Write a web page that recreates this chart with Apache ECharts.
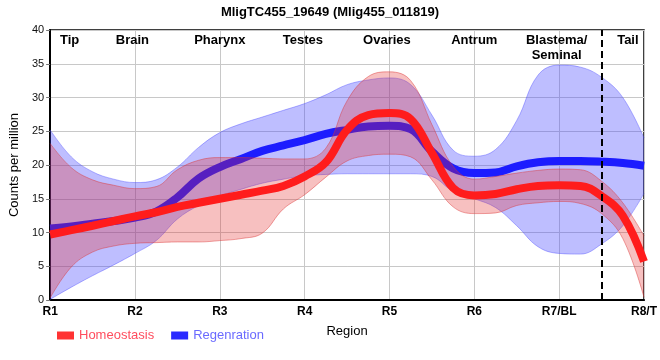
<!DOCTYPE html>
<html>
<head>
<meta charset="utf-8">
<script src="https://cdn.jsdelivr.net/npm/echarts@6/dist/echarts.min.js"></script>
<style>
html,body{margin:0;padding:0;background:#fff;}
#c{width:660px;height:360px;}
</style>
</head>
<body>
<div id="c"></div>
<script>
// ---- data ----
const categories = ['R1','R2','R3','R4','R5','R6','R7/BL','R8/T'];
const regionNames = ['Tip','Brain','Pharynx','Testes','Ovaries','Antrum','Blastema/\nSeminal','Tail'];
const yTicks = [0,5,10,15,20,25,30,35,40];
// sample positions along the region axis (1 = R1 ... 8 = R8/T)
const xPos = [1,1.25,1.5,1.75,2,2.25,2.5,2.75,3,3.25,3.5,3.75,4,4.25,4.5,4.75,5,5.25,5.5,5.75,6,6.25,6.5,6.75,7,7.25,7.5,7.75,8];

const homeoMean  = [9.7,10.35,11.0,11.7,12.4,13.0,13.8,14.4,15.0,15.6,16.2,16.9,18.3,20.4,25.2,27.4,27.7,26.8,21.8,16.6,15.5,15.7,16.4,16.9,17.0,16.9,15.4,12.5,5.7];
const homeoUpper = [23.2,19.6,17.8,17.0,16.5,16.8,19.3,20.7,21.1,21.1,21.0,20.9,20.9,22.5,29.5,33.1,33.8,32.5,26.0,19.8,17.9,18.3,18.8,19.2,19.4,19.3,17.6,14.4,9.5];
const homeoLower = [0.3,4.9,7.1,8.0,8.4,8.5,8.6,8.6,8.8,9.1,9.9,13.5,15.6,18.2,20.6,21.4,21.6,21.2,17.8,13.8,12.8,12.9,14.0,14.4,14.6,14.3,12.8,9.1,0.4];

const regenMean  = [10.6,10.9,11.3,11.7,12.2,13.1,15.2,18.0,19.7,20.9,22.1,22.9,23.7,24.6,25.2,25.7,25.8,25.3,22.0,19.5,18.8,18.9,19.8,20.4,20.6,20.6,20.5,20.3,19.9];
const regenUpper = [25.2,21.2,19.0,17.9,17.4,17.8,19.7,22.6,24.8,26.1,27.1,28.1,29.1,30.4,31.9,32.6,32.9,31.9,27.4,22.2,21.3,22.3,26.6,33.3,34.8,34.5,33.0,30.0,24.0];
const regenLower = [0.1,1.9,3.6,5.2,6.9,8.8,12.0,14.0,15.4,16.4,17.3,17.9,18.4,18.6,18.7,18.7,18.7,18.7,18.3,16.1,15.0,13.7,11.0,7.9,6.9,6.8,8.3,11.0,15.8];

const dividerAt = 7.5;
// label anchor positions along the region axis
const regionAt = [1.23,1.97,3.0,3.98,4.97,6.0,6.97,7.81];

// ---- build ----
const FONT = '"Liberation Sans", Arial, Helvetica, sans-serif';
const xCats = xPos.map(String);
const isMajor = (i) => Number.isInteger(xPos[i]);
const diffs = (up, lo) => up.map((u,i)=> +(u - lo[i]).toFixed(3));

const chart = echarts.init(document.getElementById('c'), null, {renderer:'canvas'});
const bandLine = (c)=>({width:1, color:c});
const SM = 0.4;

const option = {
  animation:false,
  textStyle:{fontFamily:FONT},
  title:{
    text:'MligTC455_19649 (Mlig455_011819)',
    left:'center', top:1,
    textStyle:{fontSize:13, fontWeight:'bold', color:'#000', fontFamily:FONT}
  },
  grid:{left:50, right:10, top:30, bottom:60, show:true, borderColor:'#000', borderWidth:1.5},
  legend:{
    left:52, top:324, itemWidth:17, itemHeight:8, itemGap:17,
    textStyle:{fontSize:13, fontFamily:FONT},
    data:[
      {name:'Homeostasis', icon:'rect', textStyle:{color:'#ff4d5e'}},
      {name:'Regenration', icon:'rect', textStyle:{color:'#6a6aff'}}
    ]
  },
  xAxis:{
    type:'category', data:xCats, boundaryGap:false,
    axisLine:{show:true, lineStyle:{color:'#000', width:2}},
    axisTick:{show:false},
    axisLabel:{interval:(i)=>isMajor(i), formatter:(v)=>{const n=+v; return Number.isInteger(n)?categories[n-1]:'';},
      fontWeight:'bold', fontSize:12, color:'#000', margin:6, fontFamily:FONT},
    splitLine:{show:true, interval:(i)=>isMajor(i), lineStyle:{color:'#c8c8c8', width:1}},
    name:'Region', nameLocation:'middle', nameGap:25,
    nameTextStyle:{fontSize:13, color:'#000', fontFamily:FONT}
  },
  yAxis:{
    type:'value', min:yTicks[0], max:yTicks[yTicks.length-1], interval:yTicks[1]-yTicks[0],
    axisLine:{show:true, lineStyle:{color:'#000', width:2}},
    axisTick:{show:true, length:4, lineStyle:{color:'#777'}},
    axisLabel:{fontSize:11, color:'#111', margin:6, fontFamily:FONT},
    splitLine:{show:true, lineStyle:{color:'#c8c8c8', width:1}},
    name:'Counts per million', nameLocation:'middle', nameGap:19,
    nameTextStyle:{fontSize:13, color:'#000', fontFamily:FONT}
  },
  series:[
    {name:'regenLo', type:'line', stack:'regen', smooth:SM, symbol:'none', data:regenLower,
     lineStyle:bandLine('rgba(70,70,255,0.4)'), silent:true, z:1},
    {name:'regenBand', type:'line', stack:'regen', smooth:SM, symbol:'none', data:diffs(regenUpper, regenLower),
     lineStyle:bandLine('rgba(70,70,255,0.4)'), areaStyle:{color:'rgba(70,70,255,0.5)'}, silent:true, z:1},
    {name:'Regenration', type:'line', smooth:SM, symbol:'none', data:regenMean,
     color:'#2a2aff', lineStyle:{width:8, color:'#1c1cff'}, z:2},
    {name:'homeoLo', type:'line', stack:'homeo', smooth:SM, symbol:'none', data:homeoLower,
     lineStyle:bandLine('rgba(220,50,50,0.45)'), silent:true, z:3},
    {name:'homeoBand', type:'line', stack:'homeo', smooth:SM, symbol:'none', data:diffs(homeoUpper, homeoLower),
     lineStyle:bandLine('rgba(220,50,50,0.45)'), areaStyle:{color:'rgba(228,40,40,0.42)'}, silent:true, z:3},
    {name:'Homeostasis', type:'line', smooth:SM, symbol:'none', data:homeoMean,
     color:'#ff3333', lineStyle:{width:8, color:'#ff1c1c'}, z:4,
     markLine:{silent:true, symbol:'none', label:{show:false},
       lineStyle:{color:'#000', type:[7,4], width:2},
       data:[{xAxis:String(dividerAt)}]}}
  ]
};
chart.setOption(option);

// region labels along the top of the plot, positioned through the x axis
const pFirst = chart.convertToPixel({xAxisIndex:0}, xCats[0]);
const pLast = chart.convertToPixel({xAxisIndex:0}, xCats[xCats.length-1]);
const toPx = (v) => pFirst + (v - xPos[0]) / (xPos[xPos.length-1] - xPos[0]) * (pLast - pFirst);
const graphics = regionNames.map((t,i)=>({
  type:'text', x:toPx(regionAt[i]), y:33, z:100,
  style:{text:t, fill:'#000', font:'bold 13px '+FONT, textAlign:'center', textVerticalAlign:'top', lineHeight:15}
}));
chart.setOption({graphic:graphics});
</script>
</body>
</html>
